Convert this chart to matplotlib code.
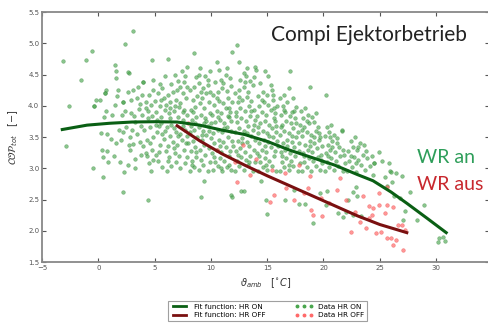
import numpy as np
import matplotlib.pyplot as plt
from matplotlib.lines import Line2D

# fit curves (x = ambient temp, y = COP)
fit_on_x = [-3.2, -1, 1, 3, 5, 7, 9, 11, 13, 15, 17, 19, 21, 23, 24.4, 26, 27.4, 29.2, 30.9]
fit_on_y = [3.62, 3.69, 3.72, 3.74, 3.745, 3.74, 3.69, 3.61, 3.54, 3.43, 3.29, 3.17, 3.05, 2.90, 2.80, 2.62, 2.44, 2.20, 1.97]

fit_off_x = [7.0, 9, 11, 13, 15, 17, 19, 21, 23, 25, 27.4]
fit_off_y = [3.68, 3.44, 3.23, 3.05, 2.88, 2.72, 2.56, 2.40, 2.24, 2.10, 1.97]

# measured points, heat recovery ON
data_on = [
    (3.1, 5.2), (2.37, 4.99), (-0.53, 4.88), (-3.16, 4.72), (-1.12, 4.74), (-1.56, 4.42), (-2.58, 4.00),
    (-2.9, 3.36), (-0.35, 3.99), (-0.2, 4.10), (0.6, 4.20), (1.48, 4.66), (1.57, 4.56), (1.57, 4.44),
    (3.94, 4.38), (0.68, 4.25), (0.15, 4.09), (-0.4, 4.0), (2.2, 4.06), (-0.5, 3.0), (0.4, 2.86),
    (2.17, 2.62), (4.4, 2.5),
    (0.2, 3.56), (0.8, 3.55), (1.6, 3.40), (0.3, 3.30), (0.8, 3.28), (0.4, 3.18), (0.9, 3.10), (1.9, 3.10),
    (1.2, 3.85), (1.5, 4.02), (0.7, 3.92), (1.8, 3.62), (1.1, 3.47), (0.5, 3.82), (1.7, 4.15), (0.6, 4.20),
    (1.75, 4.26), (1.4, 3.2),
    (2.7, 3.38), (3.1, 3.39), (2.8, 3.30), (2.3, 2.94), (2.6, 3.05), (3.3, 3.15), (3.7, 3.42), (2.2, 3.58),
    (2.5, 3.66), (3.0, 3.62), (3.4, 3.55), (3.8, 3.68), (2.1, 3.85), (2.4, 3.92), (2.9, 3.88), (3.2, 3.83),
    (3.6, 3.95), (3.9, 3.86), (2.2, 4.06), (2.9, 4.10), (3.4, 4.13), (3.7, 4.03), (2.6, 4.22), (3.1, 4.25),
    (3.5, 4.30), (3.9, 4.18), (2.75, 4.53), (2.6, 4.54), (3.95, 4.38), (3.3, 3.00), (3.8, 3.22), (2.0, 3.45),
    (4.7, 2.95), (4.5, 3.08), (4.2, 3.25), (4.8, 3.30), (5.3, 3.12), (5.7, 3.02), (5.5, 3.38), (4.3, 3.45),
    (4.9, 3.50), (5.2, 3.58), (5.8, 3.47), (4.1, 3.62), (4.6, 3.66), (5.4, 3.68), (5.9, 3.60), (4.4, 3.80),
    (4.8, 3.84), (5.1, 3.90), (5.6, 3.82), (5.95, 3.93), (4.2, 3.97), (4.7, 4.02), (5.0, 4.08), (5.5, 4.00),
    (5.8, 4.12), (4.5, 4.18), (4.9, 4.25), (5.3, 4.20), (5.7, 4.28), (4.9, 4.42), (5.5, 4.35), (5.9, 4.48),
    (4.74, 4.74), (4.3, 3.20), (5.1, 3.22), (4.0, 3.35), (5.6, 3.72), (4.4, 3.92), (5.2, 3.78), (5.7, 3.55),
    (6.1, 2.96), (6.5, 3.04), (6.9, 3.10), (7.3, 3.00), (7.7, 3.08), (6.3, 3.18), (6.8, 3.24), (7.2, 3.20),
    (7.6, 3.30), (7.9, 3.18), (6.2, 3.36), (6.6, 3.42), (7.0, 3.38), (7.4, 3.46), (7.8, 3.40), (6.4, 3.52),
    (6.9, 3.58), (7.3, 3.55), (7.7, 3.62), (6.1, 3.66), (6.5, 3.70), (7.1, 3.82), (7.5, 3.78), (7.9, 3.85),
    (6.3, 3.88), (6.7, 3.92), (7.2, 3.98), (7.6, 3.94), (6.0, 4.02), (6.4, 4.06), (6.9, 4.10), (7.3, 4.05),
    (7.8, 4.12), (6.2, 4.18), (6.6, 4.22), (7.0, 4.25), (7.5, 4.20), (7.9, 4.30), (6.5, 4.35), (7.1, 4.40),
    (7.6, 4.38), (6.8, 4.50), (7.4, 4.55), (6.2, 4.75), (7.9, 4.62), (6.7, 3.64), (7.5, 3.68), (6.0, 3.28),
    (7.85, 3.52), (6.35, 3.80),
    (8.1, 2.95), (8.5, 3.02), (8.9, 2.98), (9.3, 3.06), (9.7, 2.96), (8.3, 3.12), (8.7, 3.18), (9.1, 3.14),
    (9.5, 3.22), (9.9, 3.10), (8.2, 3.28), (8.6, 3.34), (9.0, 3.30), (9.4, 3.38), (9.8, 3.32), (8.4, 3.44),
    (8.8, 3.50), (9.2, 3.46), (9.6, 3.54), (10.0, 3.48), (8.1, 3.58), (8.5, 3.62), (8.9, 3.66), (9.3, 3.60),
    (9.7, 3.68), (8.3, 3.78), (8.7, 3.82), (9.1, 3.86), (9.5, 3.80), (9.9, 3.88), (8.2, 3.94), (8.6, 3.98),
    (9.0, 4.04), (9.4, 3.96), (9.8, 4.06), (8.4, 4.10), (8.8, 4.16), (9.2, 4.12), (9.6, 4.20), (8.1, 4.26),
    (8.5, 4.30), (8.9, 4.36), (9.3, 4.28), (9.7, 4.34), (8.7, 4.46), (9.5, 4.48), (9.9, 4.56), (8.5, 4.84),
    (9.4, 2.80), (9.1, 2.54), (8.6, 3.72), (9.4, 3.72), (8.0, 3.40), (9.9, 4.22), (9.0, 4.60),
    (10.2, 2.97), (10.6, 3.04), (11.0, 2.95), (11.4, 3.02), (11.8, 2.98), (10.4, 3.10), (10.8, 3.16),
    (11.2, 3.12), (11.6, 3.20), (10.1, 3.24), (10.5, 3.30), (10.9, 3.26), (11.3, 3.34), (11.7, 3.28),
    (10.3, 3.40), (10.7, 3.46), (11.1, 3.42), (11.5, 3.50), (11.9, 3.44), (10.2, 3.56), (10.6, 3.62),
    (11.0, 3.58), (11.4, 3.66), (11.8, 3.60), (10.4, 3.74), (10.8, 3.78), (11.2, 3.72), (11.6, 3.82),
    (10.1, 3.86), (10.5, 3.92), (10.9, 3.88), (11.3, 3.96), (11.7, 3.90), (10.3, 4.02), (10.7, 4.08),
    (11.1, 4.04), (11.5, 4.12), (11.9, 4.06), (10.2, 4.18), (10.6, 4.22), (11.0, 4.28), (11.4, 4.24),
    (11.8, 4.32), (10.4, 4.38), (10.9, 4.42), (11.3, 4.50), (11.7, 4.44), (10.7, 4.58), (11.9, 4.86),
    (11.8, 2.57), (11.9, 2.54), (10.5, 4.70), (11.6, 3.06), (10.0, 3.72), (11.5, 3.84),
    (12.1, 2.96), (12.5, 3.03), (12.9, 2.98), (13.3, 3.05), (13.7, 2.95), (12.3, 3.12), (12.7, 3.18),
    (13.1, 3.14), (13.5, 3.20), (13.9, 3.10), (12.2, 3.28), (12.6, 3.32), (13.0, 3.26), (13.4, 3.36),
    (13.8, 3.30), (12.4, 3.44), (12.8, 3.48), (13.2, 3.42), (13.6, 3.52), (12.1, 3.58), (12.5, 3.64),
    (12.9, 3.60), (13.3, 3.68), (13.7, 3.62), (12.3, 3.74), (12.7, 3.80), (13.1, 3.76), (13.5, 3.84),
    (13.9, 3.78), (12.2, 3.90), (12.6, 3.96), (13.0, 3.92), (13.4, 4.00), (13.8, 3.94), (12.4, 4.06),
    (12.8, 4.10), (13.2, 4.14), (13.6, 4.08), (12.1, 4.20), (12.5, 4.26), (12.9, 4.30), (13.3, 4.22),
    (13.7, 4.34), (12.6, 4.42), (13.1, 4.48), (13.5, 4.40), (13.2, 4.60), (13.9, 4.62), (12.3, 4.98),
    (12.5, 4.70), (12.7, 2.64), (12.96, 2.63), (13.8, 4.46), (12.0, 3.36), (13.95, 3.46),
    (14.2, 2.96), (14.6, 3.02), (15.0, 2.97), (15.4, 3.04), (15.8, 2.95), (14.4, 3.10), (14.8, 3.16),
    (15.2, 3.12), (15.6, 3.20), (14.1, 3.24), (14.5, 3.30), (14.9, 3.26), (15.3, 3.34), (15.7, 3.28),
    (14.3, 3.40), (14.7, 3.46), (15.1, 3.42), (15.5, 3.50), (15.9, 3.44), (14.2, 3.56), (14.6, 3.60),
    (15.0, 3.56), (15.4, 3.64), (15.8, 3.58), (14.4, 3.72), (14.8, 3.76), (15.2, 3.70), (15.6, 3.80),
    (14.1, 3.84), (14.5, 3.90), (14.9, 3.86), (15.3, 3.94), (15.7, 3.88), (14.3, 4.00), (14.7, 4.06),
    (15.1, 4.02), (15.5, 4.10), (14.2, 4.16), (14.6, 4.22), (15.0, 4.18), (15.4, 4.26), (14.4, 4.37),
    (15.1, 4.47), (14.8, 4.56), (14.45, 2.80), (15.0, 2.27), (14.9, 2.49), (15.9, 4.00), (14.0, 4.58),
    (15.8, 3.68),
    (16.1, 2.96), (16.5, 3.02), (16.9, 2.97), (17.3, 3.04), (17.7, 2.95), (16.3, 3.10), (16.7, 3.16),
    (17.1, 3.12), (17.5, 3.20), (17.9, 3.08), (16.2, 3.26), (16.6, 3.30), (17.0, 3.24), (17.4, 3.34),
    (17.8, 3.28), (16.4, 3.40), (16.8, 3.46), (17.2, 3.42), (17.6, 3.50), (16.1, 3.54), (16.5, 3.60),
    (16.9, 3.56), (17.3, 3.64), (17.7, 3.58), (16.3, 3.70), (16.7, 3.76), (17.1, 3.72), (17.5, 3.80),
    (16.2, 3.86), (16.6, 3.90), (17.0, 3.84), (17.4, 3.92), (16.4, 4.00), (16.8, 4.06), (17.6, 3.98),
    (16.1, 4.12), (16.5, 4.18), (17.0, 4.56), (16.6, 2.50), (17.4, 2.65), (17.8, 2.43), (16.9, 4.28),
    (17.9, 3.70), (16.0, 3.36), (17.2, 3.90),
    (18.1, 2.96), (18.5, 3.02), (18.9, 2.95), (19.3, 3.04), (19.7, 2.97), (18.3, 3.10), (18.7, 3.16),
    (19.1, 3.12), (19.5, 3.18), (19.9, 3.08), (18.2, 3.24), (18.6, 3.30), (19.0, 3.26), (19.4, 3.32),
    (19.8, 3.22), (18.4, 3.38), (18.8, 3.44), (19.2, 3.40), (19.6, 3.46), (18.1, 3.52), (18.5, 3.58),
    (18.9, 3.54), (19.3, 3.60), (19.7, 3.50), (18.3, 3.66), (18.7, 3.72), (19.2, 3.74), (18.2, 3.80),
    (18.6, 3.86), (19.0, 3.82), (18.4, 3.96), (18.8, 4.30), (18.4, 2.43), (19.1, 2.13), (19.7, 2.61),
    (19.5, 3.66), (18.0, 3.92), (19.9, 3.36),
    (20.1, 2.96), (20.5, 3.02), (20.9, 2.97), (21.3, 3.04), (21.7, 2.95), (20.3, 3.10), (20.7, 3.16),
    (21.1, 3.12), (21.5, 3.20), (21.9, 3.08), (20.2, 3.24), (20.6, 3.30), (21.0, 3.26), (21.4, 3.34),
    (21.8, 3.22), (20.4, 3.38), (20.8, 3.44), (21.2, 3.40), (21.6, 3.59), (20.1, 3.52), (20.5, 3.58),
    (20.9, 3.54), (20.3, 3.66), (20.2, 4.17), (20.3, 2.63), (20.2, 2.41), (21.6, 3.61), (21.3, 2.28),
    (21.7, 2.22), (20.7, 3.70),
    (22.1, 2.96), (22.5, 3.02), (22.9, 2.94), (23.3, 3.06), (23.7, 2.98), (24.1, 3.04), (24.5, 3.08),
    (22.3, 3.12), (22.7, 3.18), (23.1, 3.14), (23.5, 3.22), (23.9, 3.16), (24.3, 3.20), (24.9, 3.26),
    (22.2, 3.28), (22.6, 3.34), (23.0, 3.30), (23.1, 3.34), (23.6, 3.38), (22.4, 3.44), (22.8, 3.50),
    (22.2, 2.50), (22.6, 2.62), (22.9, 2.70), (23.0, 2.55), (22.0, 2.30), (22.6, 2.26), (23.3, 2.23),
    (24.4, 2.90), (24.5, 3.08),
    (25.9, 2.96), (26.0, 2.94), (26.4, 2.92), (26.8, 2.52), (26.3, 2.55), (27.2, 2.32), (27.1, 2.17),
    (28.3, 2.18), (28.95, 2.41), (30.3, 1.88), (30.6, 1.90), (30.8, 1.84), (30.2, 1.82), (25.2, 3.12),
    (25.5, 2.86), (25.6, 2.72), (26.1, 2.78), (27.0, 2.88), (25.8, 3.08), (27.7, 2.62),
    # second pass over the dense core
    (6.2, 3.12), (6.7, 3.32), (7.1, 3.52), (7.5, 3.90), (6.8, 4.00), (7.3, 4.30), (6.4, 3.96), (7.7, 4.48),
    (8.3, 3.06), (8.7, 3.26), (9.2, 3.54), (9.6, 3.76), (8.4, 3.90), (9.1, 4.22), (8.9, 4.50), (9.7, 4.42),
    (8.2, 3.68), (9.8, 3.60), (10.3, 3.18), (10.8, 3.36), (11.2, 3.64), (11.6, 3.96), (10.5, 4.12),
    (11.1, 4.36), (10.6, 3.82), (11.8, 3.76), (10.9, 3.00), (11.4, 4.60), (12.4, 3.22), (12.8, 3.40),
    (13.2, 3.56), (13.6, 3.92), (12.5, 4.14), (13.0, 4.38), (12.2, 3.84), (13.8, 3.70), (13.4, 3.10),
    (12.9, 4.52), (14.3, 3.20), (14.8, 3.36), (15.2, 3.52), (15.6, 3.96), (14.5, 4.10), (15.3, 4.34),
    (14.2, 3.66), (15.7, 3.76), (14.9, 3.06), (15.5, 4.18), (16.3, 3.20), (16.8, 3.36), (17.2, 3.52),
    (17.6, 3.72), (16.5, 3.94), (17.3, 4.12), (16.2, 3.66), (17.8, 3.40), (16.9, 3.06), (18.3, 3.20),
    (18.8, 3.36), (19.2, 3.50), (19.6, 3.56), (18.5, 3.76), (19.3, 3.88), (18.1, 3.62), (19.8, 3.14),
    (20.4, 3.20), (20.8, 3.34), (21.2, 3.48), (20.6, 3.50), (21.7, 3.30), (22.4, 3.20), (23.2, 3.40),
    (23.8, 3.28), (22.9, 3.08), (4.6, 3.40), (5.1, 3.70), (5.6, 4.10), (4.2, 4.06), (3.3, 3.74),
    (2.8, 3.50), (5.4, 3.26), (4.9, 3.14),
]

# measured points, heat recovery OFF
data_off = [
    (12.3, 2.78), (12.85, 3.37), (12.1, 3.10), (15.25, 2.46), (15.6, 2.58), (16.7, 2.68), (17.4, 2.50),
    (18.65, 2.69), (18.3, 2.60), (18.9, 2.33), (19.1, 2.26), (19.9, 2.24), (19.8, 2.53), (15.4, 2.98),
    (16.6, 2.93), (18.8, 2.88), (24.0, 2.40), (24.4, 2.36), (24.9, 2.41), (25.6, 2.41), (26.2, 2.38),
    (25.5, 2.28), (25.1, 1.98), (25.6, 1.89), (26.0, 1.88), (26.4, 1.86), (26.2, 1.78), (27.1, 1.70),
    (24.7, 1.97), (23.8, 2.04), (22.4, 1.98), (23.2, 2.14), (27.2, 2.01), (24.0, 2.20), (24.3, 2.26),
    (27.0, 2.09), (25.6, 2.70), (24.9, 2.60), (20.5, 2.45), (21.2, 2.65), (22.0, 2.50), (14.0, 3.15),
    (17.8, 3.05), (21.5, 2.85), (10.5, 3.30), (8.0, 3.72), (13.5, 2.90), (22.8, 2.30), (26.6, 2.10),
    (23.5, 2.55),
]

on_x, on_y = np.array(data_on).T
off_x, off_y = np.array(data_off).T

fig = plt.figure(figsize=(4.89, 3.25), dpi=100)
ax = fig.add_axes([0.0859, 0.1938, 0.9141, 0.7692])

ax.scatter(on_x, on_y, s=7, color="#4aa64e", edgecolors="#2f7f35", linewidths=0.3, alpha=0.65, zorder=2)
ax.scatter(off_x, off_y, s=7, color="#ff6a6a", edgecolors="#e84040", linewidths=0.3, alpha=0.7, zorder=2)
ax.plot(fit_on_x, fit_on_y, color="#0a5f14", lw=2.2, zorder=3)
ax.plot(fit_off_x, fit_off_y, color="#7a1010", lw=2.2, zorder=3)

ax.set_xlim(-5, 34.7)
ax.set_ylim(1.5, 5.5)
ax.set_xticks([-5, 0, 5, 10, 15, 20, 25, 30])
ax.set_yticks([1.5, 2.0, 2.5, 3.0, 3.5, 4.0, 4.5, 5.0, 5.5])
ax.tick_params(direction="in", top=True, right=True, labelsize=5, colors="#555555", length=3, pad=2)
for s in ax.spines.values():
    s.set_color("#888888")
    s.set_linewidth(1.3)

ax.set_xlabel(r"$\vartheta_{amb}\quad[^{\circ}C]$", fontsize=7, color="#333333", labelpad=4)
ax.set_ylabel(r"$\mathcal{COP}_{tot}\quad[-]$", fontsize=7, color="#333333", labelpad=6)

fig.text(0.755, 0.892, "Compi Ejektorbetrieb", fontsize=15, family="Lato", color="#222222", ha="center", va="center")
fig.text(0.853, 0.514, "WR an", fontsize=14, family="Lato", color="#2e9e5a", ha="left", va="center")
fig.text(0.853, 0.431, "WR aus", fontsize=14, family="Lato", color="#c8282e", ha="left", va="center")

handles = [
    Line2D([], [], color="#0a5f14", lw=2),
    Line2D([], [], color="#7a1010", lw=2),
    Line2D([], [], ls="", marker="o", ms=1.8, color="#4aa64e"),
    Line2D([], [], ls="", marker="o", ms=1.8, color="#ff6a6a"),
]
labels = ["Fit function: HR ON", "Fit function: HR OFF", "Data HR ON", "Data HR OFF"]
leg = fig.legend(handles, labels, loc="center", bbox_to_anchor=(0.547, 0.043), ncol=2,
                 fontsize=5.2, frameon=True, fancybox=False, handlelength=2.5, numpoints=3,
                 columnspacing=4, borderpad=0.4, labelspacing=0.3)
leg.get_frame().set_edgecolor("#888888")
leg.get_frame().set_linewidth(0.8)

fig.savefig("out.png", dpi=100)
